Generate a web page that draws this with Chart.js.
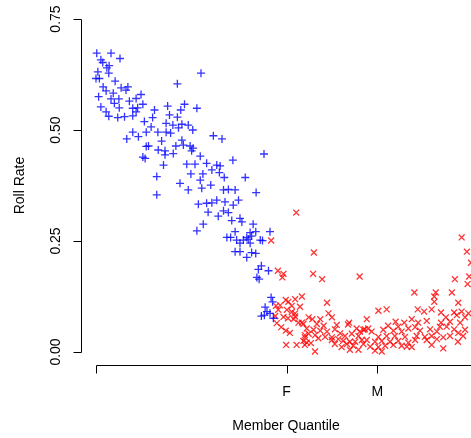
<!DOCTYPE html>
<html>
<head>
<meta charset="utf-8">
<title>Roll Rate by Member Quantile</title>
<script src="https://cdn.jsdelivr.net/npm/chart.js@4/dist/chart.umd.min.js"></script>
<style>
  html, body { margin: 0; padding: 0; background: #fff; }
  #wrap { width: 471px; height: 438px; }
</style>
</head>
<body>
<div id="wrap"><canvas id="rollChart" width="471" height="438"></canvas></div>
<script>
// --- 1. DATA ---
// [member quantile, roll rate]
const lowerMembers = [
  [0.002,0.673],[0.040,0.673],[0.064,0.661],[0.013,0.658],[0.018,0.652],[0.035,0.645],[0.029,0.640],
  [0.005,0.631],[0.034,0.628],[0.000,0.616],[0.009,0.616],[0.051,0.610],[0.019,0.597],[0.067,0.595],
  [0.085,0.597],[0.080,0.590],[0.027,0.588],[0.046,0.583],[0.120,0.580],[0.007,0.575],[0.107,0.571],
  [0.040,0.570],[0.061,0.570],[0.089,0.565],[0.049,0.560],[0.125,0.558],[0.191,0.554],[0.013,0.552],
  [0.062,0.550],[0.098,0.549],[0.111,0.550],[0.027,0.541],[0.107,0.541],[0.156,0.545],[0.196,0.534],
  [0.034,0.531],[0.058,0.528],[0.076,0.530],[0.098,0.532],[0.151,0.528],[0.129,0.519],[0.187,0.515],
  [0.205,0.511],[0.147,0.507],[0.098,0.495],[0.134,0.495],[0.165,0.495],[0.187,0.495],[0.199,0.493],
  [0.082,0.480],[0.113,0.485],[0.140,0.464],[0.131,0.436],[0.125,0.439],[0.134,0.463],[0.162,0.395],
  [0.162,0.354],[0.280,0.628],[0.217,0.604],[0.236,0.558],[0.226,0.545],[0.269,0.549],[0.217,0.529],
  [0.229,0.513],[0.246,0.511],[0.220,0.505],[0.258,0.500],[0.313,0.487],[0.336,0.480],[0.175,0.475],
  [0.229,0.477],[0.213,0.464],[0.233,0.466],[0.251,0.464],[0.259,0.459],[0.166,0.455],[0.184,0.453],
  [0.184,0.444],[0.180,0.421],[0.206,0.447],[0.255,0.453],[0.448,0.446],[0.278,0.441],[0.242,0.423],
  [0.264,0.423],[0.295,0.425],[0.322,0.421],[0.331,0.419],[0.365,0.432],[0.309,0.410],[0.329,0.404],
  [0.253,0.401],[0.285,0.401],[0.342,0.393],[0.398,0.393],[0.278,0.387],[0.224,0.380],[0.306,0.376],
  [0.246,0.365],[0.282,0.369],[0.340,0.365],[0.353,0.366],[0.371,0.365],[0.427,0.359],[0.322,0.342],
  [0.380,0.342],[0.273,0.333],[0.295,0.335],[0.309,0.336],[0.344,0.338],[0.366,0.331],[0.340,0.318],
  [0.353,0.314],[0.299,0.315],[0.326,0.306],[0.362,0.296],[0.384,0.301],[0.389,0.293],[0.286,0.288],
  [0.419,0.288],[0.269,0.273],[0.371,0.271],[0.349,0.258],[0.359,0.258],[0.402,0.258],[0.411,0.269],
  [0.415,0.261],[0.375,0.252],[0.393,0.252],[0.406,0.254],[0.384,0.245],[0.411,0.245],[0.371,0.226],
  [0.384,0.226],[0.415,0.224],[0.402,0.213],[0.464,0.271],[0.426,0.271],[0.438,0.252],[0.444,0.251],
  [0.426,0.222],[0.441,0.194],[0.433,0.186],[0.460,0.183],[0.429,0.168],[0.435,0.164],[0.467,0.123],
  [0.471,0.113],[0.451,0.101],[0.456,0.091],[0.449,0.083],[0.441,0.081],[0.464,0.087],[0.473,0.076]
];

const upperMembers = [
  [0.534,0.314],[0.467,0.251],[0.581,0.224],[0.485,0.183],[0.500,0.176],[0.497,0.168],[0.579,0.176],
  [0.603,0.164],[0.703,0.170],[0.513,0.113],[0.531,0.119],[0.549,0.125],[0.480,0.104],[0.522,0.104],
  [0.544,0.102],[0.616,0.111],[0.486,0.095],[0.509,0.095],[0.531,0.087],[0.620,0.087],[0.629,0.078],
  [0.478,0.081],[0.512,0.076],[0.527,0.074],[0.567,0.078],[0.577,0.074],[0.598,0.074],[0.675,0.066],
  [0.482,0.065],[0.540,0.066],[0.553,0.063],[0.589,0.063],[0.607,0.059],[0.642,0.061],[0.494,0.056],
  [0.506,0.048],[0.562,0.053],[0.580,0.050],[0.598,0.048],[0.616,0.046],[0.637,0.051],[0.695,0.053],
  [0.713,0.050],[0.517,0.043],[0.567,0.041],[0.584,0.038],[0.611,0.034],[0.629,0.033],[0.651,0.042],
  [0.664,0.036],[0.682,0.041],[0.700,0.036],[0.557,0.033],[0.593,0.031],[0.553,0.025],[0.646,0.029],
  [0.659,0.025],[0.691,0.023],[0.709,0.027],[0.573,0.020],[0.637,0.018],[0.669,0.018],[0.686,0.014],
  [0.507,0.016],[0.535,0.016],[0.557,0.016],[0.677,0.005],[0.584,0.001],[0.713,0.018],[0.655,0.011],
  [0.500,0.079],[0.677,0.023],[0.700,0.005],[0.531,0.080],[0.549,0.066],[0.557,0.038],[0.629,0.027],
  [0.704,0.046],[0.562,0.021],[0.717,0.051],[0.672,0.062],[0.506,0.117],[0.491,0.105],[0.522,0.090],
  [0.975,0.258],[0.989,0.226],[1.000,0.201],[0.995,0.170],[0.957,0.164],[0.991,0.153],[0.849,0.134],
  [0.906,0.134],[0.949,0.134],[0.902,0.125],[0.902,0.113],[0.966,0.111],[0.753,0.093],[0.775,0.096],
  [0.858,0.096],[0.875,0.091],[0.895,0.096],[0.920,0.089],[0.955,0.089],[0.975,0.091],[0.993,0.087],
  [0.722,0.074],[0.842,0.074],[0.859,0.066],[0.882,0.070],[0.933,0.078],[0.962,0.083],[0.984,0.078],
  [0.799,0.068],[0.822,0.066],[0.920,0.066],[0.944,0.068],[0.971,0.066],[0.779,0.059],[0.806,0.057],
  [0.833,0.053],[0.851,0.056],[0.891,0.051],[0.917,0.057],[0.935,0.057],[0.955,0.051],[0.984,0.050],
  [0.726,0.053],[0.735,0.046],[0.766,0.050],[0.793,0.048],[0.815,0.046],[0.864,0.048],[0.909,0.046],
  [0.966,0.043],[0.753,0.034],[0.775,0.036],[0.797,0.036],[0.824,0.034],[0.855,0.036],[0.877,0.034],
  [0.895,0.036],[0.926,0.033],[0.944,0.036],[0.979,0.036],[0.722,0.027],[0.744,0.023],[0.762,0.025],
  [0.784,0.023],[0.806,0.025],[0.833,0.021],[0.851,0.027],[0.882,0.027],[0.909,0.029],[0.965,0.023],
  [0.731,0.012],[0.753,0.011],[0.771,0.014],[0.793,0.016],[0.815,0.014],[0.842,0.011],[0.895,0.016],
  [0.744,0.003],[0.762,0.001],[0.829,0.012],[0.926,0.008]
];

const yTicks = [0, 0.25, 0.5, 0.75];
const yTickLabels = ["0.00", "0.25", "0.50", "0.75"];
const xTicks = [0, 0.508, 0.75];
const xTickLabels = ["", "F", "M"];

const FONT = '14px "Liberation Sans", Arial, Helvetica, sans-serif';

// --- 2. R-STYLE AXES ---
// axis lines only span the tick range, labels parallel to the axis
const baseAxes = {
  id: "baseAxes",
  afterDraw(chart) {
    const { ctx, scales: { x, y } } = chart;
    ctx.save();
    ctx.strokeStyle = "#000";
    ctx.fillStyle = "#000";
    ctx.lineWidth = 1;
    ctx.font = FONT;

    // y axis
    const ax = Math.round(chart.chartArea.left) + 0.5;
    const y0 = y.getPixelForValue(yTicks[0]);
    const y1 = y.getPixelForValue(yTicks[yTicks.length - 1]);
    ctx.beginPath();
    ctx.moveTo(ax, Math.round(y0) + 0.5);
    ctx.lineTo(ax, Math.round(y1) + 0.5);
    yTicks.forEach((v) => {
      const py = Math.round(y.getPixelForValue(v)) + 0.5;
      ctx.moveTo(ax, py);
      ctx.lineTo(ax - 8, py);
    });
    ctx.stroke();

    ctx.textAlign = "center";
    ctx.textBaseline = "middle";
    yTicks.forEach((v, i) => {
      ctx.save();
      ctx.translate(56, y.getPixelForValue(v));
      ctx.rotate(-Math.PI / 2);
      ctx.fillText(yTickLabels[i], 0, 0);
      ctx.restore();
    });

    // x axis, running off the right edge
    const ay = Math.round(chart.chartArea.bottom) + 0.5;
    ctx.beginPath();
    ctx.moveTo(Math.round(x.getPixelForValue(xTicks[0])) + 0.5, ay);
    ctx.lineTo(chart.width + 20, ay);
    xTicks.forEach((v) => {
      const px = Math.round(x.getPixelForValue(v)) + 0.5;
      ctx.moveTo(px, ay);
      ctx.lineTo(px, ay + 8);
    });
    ctx.stroke();
    xTicks.forEach((v, i) => {
      ctx.fillText(xTickLabels[i], x.getPixelForValue(v), 392);
    });

    // axis titles
    ctx.fillText("Member Quantile", 286, 426);
    ctx.save();
    ctx.translate(20, (chart.chartArea.top + chart.chartArea.bottom) / 2);
    ctx.rotate(-Math.PI / 2);
    ctx.fillText("Roll Rate", 0, 0);
    ctx.restore();

    ctx.restore();
  },
};

// --- 3. CHART ---
function initRollChart() {
  const ctx = document.getElementById("rollChart");
  if (!ctx) return;

  new Chart(ctx, {
    type: "scatter",
    data: {
      datasets: [
        {
          label: "Lower",
          data: lowerMembers.map(([x, y]) => ({ x, y })),
          pointStyle: "cross",
          radius: 4,
          borderColor: "rgba(0,0,255,0.8)",
          borderWidth: 1.3,
        },
        {
          label: "Upper",
          data: upperMembers.map(([x, y]) => ({ x, y })),
          pointStyle: "crossRot",
          radius: 4.2,
          borderColor: "rgba(255,0,0,0.8)",
          borderWidth: 1.3,
        },
      ],
    },
    options: {
      responsive: false,
      animation: false,
      layout: { autoPadding: false, padding: { left: 81, top: 6, right: 0, bottom: 73 } },
      plugins: { legend: { display: false }, tooltip: { enabled: false } },
      scales: {
        x: { type: "linear", display: false, min: -0.04, max: 1.0 },
        y: { type: "linear", display: false, min: -0.0293, max: 0.7793 },
      },
    },
    plugins: [baseAxes],
  });
}

document.addEventListener("DOMContentLoaded", initRollChart);
</script>
</body>
</html>
